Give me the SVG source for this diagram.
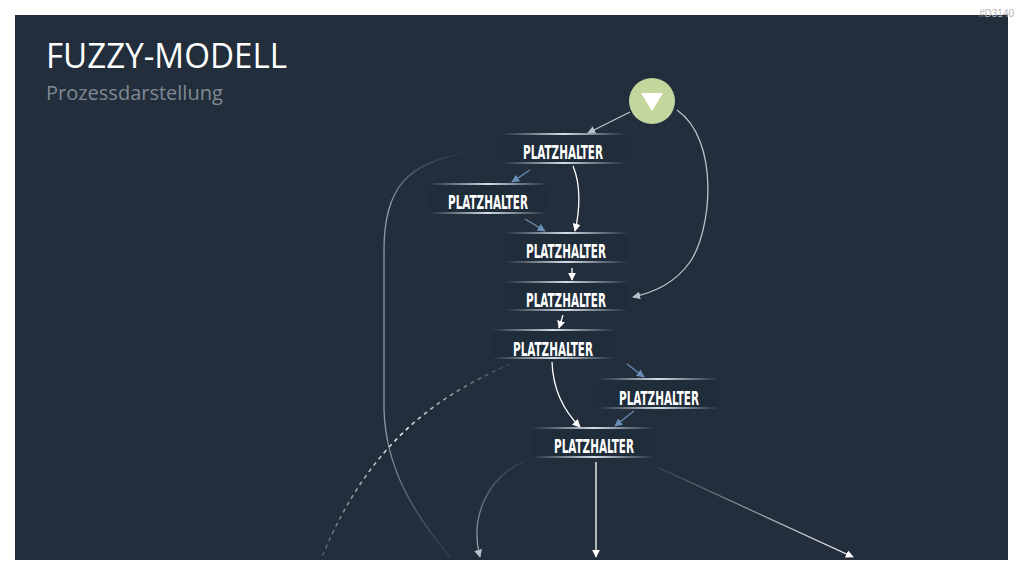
<svg xmlns="http://www.w3.org/2000/svg" width="1024" height="576" viewBox="0 0 1024 576">
  <defs>
    <linearGradient id="ln" x1="0" y1="0" x2="1" y2="0">
      <stop offset="0" stop-color="#c9d2dc" stop-opacity="0"/>
      <stop offset="0.5" stop-color="#d5dde6" stop-opacity="1"/>
      <stop offset="1" stop-color="#c9d2dc" stop-opacity="0"/>
    </linearGradient>
    <linearGradient id="fadeLeft" gradientUnits="userSpaceOnUse" x1="470" y1="150" x2="450" y2="557">
      <stop offset="0" stop-color="#aab4bf" stop-opacity="0"/>
      <stop offset="0.15" stop-color="#aab4bf" stop-opacity="0.8"/>
      <stop offset="0.7" stop-color="#aab4bf" stop-opacity="0.8"/>
      <stop offset="1" stop-color="#aab4bf" stop-opacity="0.1"/>
    </linearGradient>
    <linearGradient id="fadeDash" gradientUnits="userSpaceOnUse" x1="510" y1="365" x2="322" y2="557">
      <stop offset="0" stop-color="#ffffff" stop-opacity="0.1"/>
      <stop offset="0.45" stop-color="#ffffff" stop-opacity="0.9"/>
      <stop offset="1" stop-color="#ffffff" stop-opacity="0.2"/>
    </linearGradient>
    <linearGradient id="fadeB1" gradientUnits="userSpaceOnUse" x1="525" y1="460" x2="480" y2="557">
      <stop offset="0" stop-color="#aab4bf" stop-opacity="0.1"/>
      <stop offset="1" stop-color="#aab4bf" stop-opacity="0.9"/>
    </linearGradient>
    <linearGradient id="fadeB3" gradientUnits="userSpaceOnUse" x1="655" y1="466" x2="853" y2="557">
      <stop offset="0" stop-color="#dfe5ea" stop-opacity="0.1"/>
      <stop offset="1" stop-color="#ffffff" stop-opacity="1"/>
    </linearGradient>
    <marker id="aw" viewBox="0 0 10 10" refX="9" refY="5" markerWidth="8" markerHeight="8" markerUnits="userSpaceOnUse" orient="auto">
      <path d="M0,0 L10,5 L0,10 Z" fill="#ffffff"/>
    </marker>
    <marker id="ag" viewBox="0 0 10 10" refX="9" refY="5" markerWidth="8" markerHeight="8" markerUnits="userSpaceOnUse" orient="auto">
      <path d="M0,0 L10,5 L0,10 Z" fill="#b9c1ca"/>
    </marker>
    <marker id="ab" viewBox="0 0 10 10" refX="9" refY="5" markerWidth="8" markerHeight="8" markerUnits="userSpaceOnUse" orient="auto">
      <path d="M0,0 L10,5 L0,10 Z" fill="#6a8db5"/>
    </marker>
    <style>
      .lbl { font-family: "Liberation Sans Narrow", "DejaVu Sans Condensed", "Liberation Sans", sans-serif; font-weight: bold; font-size: 19px; fill: #ffffff; text-anchor: middle; }
      .box { fill: #1c2734; opacity: 0.3; }
      .c { fill: none; stroke-width: 1.3; }
      .w { stroke: #ffffff; }
      .g { stroke: #b9c1ca; }
      .b { stroke: #6a8db5; }
    </style>
  </defs>

  <rect x="0" y="0" width="1024" height="576" fill="#ffffff"/>
  <rect x="15" y="15" width="993" height="545" fill="#222e3c"/>
  <text x="1014" y="17" font-family="Liberation Sans, sans-serif" font-size="10" fill="#b5b5b5" text-anchor="end">#D3140</text>

  <g id="title">
    <text x="46" y="68" font-family="Open Sans, sans-serif" font-size="34" fill="#ffffff" textLength="241" lengthAdjust="spacingAndGlyphs">FUZZY-MODELL</text>
    <text x="46" y="100" font-family="Open Sans, sans-serif" font-size="20" fill="#808992">Prozessdarstellung</text>
  </g>

  <g id="connectors">
    <path class="c g" d="M630,112 L588,133" marker-end="url(#ag)"/>
    <path class="c g" d="M677,110 C720,140 712,230 690,262 C675,283 655,292 633,297" marker-end="url(#ag)"/>
    <path class="c b" d="M530,170 L512,182" marker-end="url(#ab)"/>
    <path class="c w" d="M573,166 C581,185 580,210 575,231" marker-end="url(#aw)"/>
    <path class="c b" d="M525,219 L545,231" marker-end="url(#ab)"/>
    <path class="c w" d="M572,268 L572,280" marker-end="url(#aw)"/>
    <path class="c w" d="M563,315 L559,328" marker-end="url(#aw)"/>
    <path class="c b" d="M627,364 L644,377" marker-end="url(#ab)"/>
    <path class="c w" d="M552,362 C553,392 565,412 580,427" marker-end="url(#aw)"/>
    <path class="c b" d="M634,411 L615,426" marker-end="url(#ab)"/>
    <path class="c" stroke="url(#fadeB1)" d="M525,461 C485,478 470,520 480,557" marker-end="url(#ag)"/>
    <path class="c w" d="M596,462 L596,557" marker-end="url(#aw)"/>
    <path class="c" stroke="url(#fadeB3)" d="M657,467 L853,557" marker-end="url(#aw)"/>
    <path fill="none" stroke="url(#fadeDash)" stroke-width="1.6" stroke-dasharray="4,4" d="M510,364 C440,395 370,440 322,557"/>
    <path class="c" stroke="url(#fadeLeft)" d="M470,152 C405,162 384,190 384,250 L384,410 C386,470 415,515 450,557"/>
  </g>

  <g id="start">
    <circle cx="652" cy="101" r="23" fill="#c3d69b"/>
    <polygon points="641,93 663,93 652,111" fill="#ffffff"/>
  </g>

  <g id="node1">
    <rect class="box" x="502" y="135" width="123" height="28"/>
    <rect x="502" y="133" width="123" height="2" fill="url(#ln)"/>
    <rect x="502" y="162" width="123" height="2" fill="url(#ln)"/>
    <text class="lbl" x="563" y="159" textLength="80" lengthAdjust="spacingAndGlyphs">PLATZHALTER</text>
  </g>
  <g id="node2">
    <rect class="box" x="428" y="185" width="120" height="28"/>
    <rect x="428" y="183" width="120" height="2" fill="url(#ln)"/>
    <rect x="428" y="212" width="120" height="2" fill="url(#ln)"/>
    <text class="lbl" x="488" y="209" textLength="80" lengthAdjust="spacingAndGlyphs">PLATZHALTER</text>
  </g>
  <g id="node3">
    <rect class="box" x="505" y="234" width="123" height="28"/>
    <rect x="505" y="232" width="123" height="2" fill="url(#ln)"/>
    <rect x="505" y="261" width="123" height="2" fill="url(#ln)"/>
    <text class="lbl" x="566" y="258" textLength="80" lengthAdjust="spacingAndGlyphs">PLATZHALTER</text>
  </g>
  <g id="node4">
    <rect class="box" x="505" y="283" width="123" height="28"/>
    <rect x="505" y="281" width="123" height="2" fill="url(#ln)"/>
    <rect x="505" y="309" width="123" height="2" fill="url(#ln)"/>
    <text class="lbl" x="566" y="307" textLength="80" lengthAdjust="spacingAndGlyphs">PLATZHALTER</text>
  </g>
  <g id="node5">
    <rect class="box" x="492" y="331" width="123" height="28"/>
    <rect x="492" y="329" width="123" height="2" fill="url(#ln)"/>
    <rect x="492" y="357" width="123" height="2" fill="url(#ln)"/>
    <text class="lbl" x="553" y="356" textLength="80" lengthAdjust="spacingAndGlyphs">PLATZHALTER</text>
  </g>
  <g id="node6">
    <rect class="box" x="598" y="380" width="121" height="28"/>
    <rect x="598" y="378" width="121" height="2" fill="url(#ln)"/>
    <rect x="598" y="407" width="121" height="2" fill="url(#ln)"/>
    <text class="lbl" x="659" y="405" textLength="80" lengthAdjust="spacingAndGlyphs">PLATZHALTER</text>
  </g>
  <g id="node7">
    <rect class="box" x="532" y="429" width="123" height="28"/>
    <rect x="532" y="427" width="123" height="2" fill="url(#ln)"/>
    <rect x="532" y="456" width="123" height="2" fill="url(#ln)"/>
    <text class="lbl" x="594" y="453" textLength="80" lengthAdjust="spacingAndGlyphs">PLATZHALTER</text>
  </g>
</svg>
